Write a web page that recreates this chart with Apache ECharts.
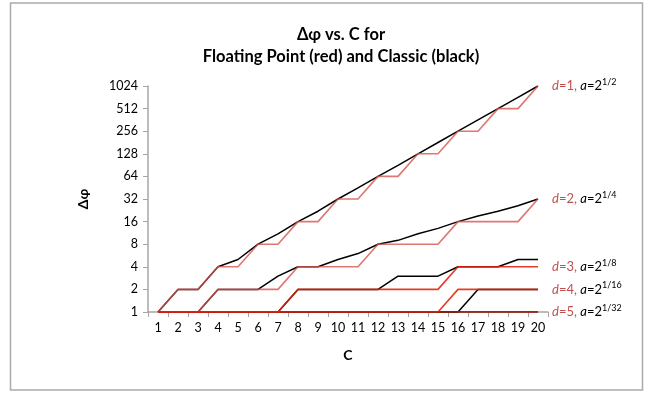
<!DOCTYPE html>
<html><head><meta charset="utf-8">
<script src="https://cdn.jsdelivr.net/npm/echarts@6/dist/echarts.min.js"></script>
<style>html,body{margin:0;padding:0;background:#fff}#c{width:652px;height:395px}</style>
</head><body><div id="c"></div>
<script>
var categories = ['1','2','3','4','5','6','7','8','9','10','11','12','13','14','15','16','17','18','19','20'];
var yTicks = [1,2,4,8,16,32,64,128,256,512,1024];
var red1   = [1,2,2,4,4,8,8,16,16,32,32,64,64,128,128,256,256,512,512,1024];
var black1 = [1,2,2,4,5,8,11,16,22,32,45,64,90,128,181,256,362,512,724,1024];
var red2   = [1,1,1,2,2,2,2,4,4,4,4,8,8,8,8,16,16,16,16,32];
var black2 = [1,1,1,2,2,2,3,4,4,5,6,8,9,11,13,16,19,22,26,32];
var red3   = [1,1,1,1,1,1,1,2,2,2,2,2,2,2,2,4,4,4,4,4];
var black3 = [1,1,1,1,1,1,1,2,2,2,2,2,3,3,3,4,4,4,5,5];
var red4   = [1,1,1,1,1,1,1,1,1,1,1,1,1,1,1,2,2,2,2,2];
var black4 = [1,1,1,1,1,1,1,1,1,1,1,1,1,1,1,1,2,2,2,2];
var red5   = [1,1,1,1,1,1,1,1,1,1,1,1,1,1,1,1,1,1,1,1];
var black5 = [1,1,1,1,1,1,1,1,1,1,1,1,1,1,1,1,1,1,1,1];
var dLabels = ['1','2','3','4','5'];
var aExps = ['1/2','1/4','1/8','1/16','1/32'];

var FONT = 'Lato';
var chart = echarts.init(document.getElementById('c'), null, {renderer:'canvas'});
var blacks = [black1,black2,black3,black4,black5];
var reds = [red1,red2,red3,red4,red5];
var redColors = ['rgba(214,84,78,0.8)','rgba(214,84,78,0.8)','rgba(226,32,10,0.88)','rgba(226,32,10,0.88)','rgba(226,32,10,0.88)'];
var series = [];
blacks.forEach(function(b,i){
  series.push({type:'line', name:'classic d='+dLabels[i], data:b, symbol:'none', silent:true,
    lineStyle:{color:'#000', width:1.5}, z:2});
});
reds.forEach(function(r,i){
  series.push({type:'line', name:'fp d='+dLabels[i], data:r, symbol:'none', silent:true,
    lineStyle:{color:redColors[i], width:1.6}, z:3,
    endLabel:{show:true, distance:14,
      formatter:'{d|d}{r|=' + dLabels[i] + ', }{a|a}{k|=2}{s|' + aExps[i] + '}',
      rich:{
        d:{fontFamily:FONT, fontSize:13, fontStyle:'italic', color:'#c0504d'},
        r:{fontFamily:FONT, fontSize:13, color:'#c0504d'},
        a:{fontFamily:FONT, fontSize:13, fontStyle:'italic', color:'#000'},
        k:{fontFamily:FONT, fontSize:13, color:'#000'},
        s:{fontFamily:FONT, fontSize:9, color:'#000', verticalAlign:'top', padding:[0,0,8,0]}
      }
    }
  });
});

chart.setOption({
  animation:false,
  backgroundColor:'#fff',
  title:{text:'Δφ vs. C for\nFloating Point (red) and Classic (black)', left:336, top:19, textAlign:'center',
    textStyle:{fontFamily:FONT, fontSize:16.5, fontWeight:'bold', color:'#000', lineHeight:22}},
  graphic:[{type:'rect', shape:{x:10.5, y:3, width:632, height:387}, style:{fill:null, stroke:'#aaa', lineWidth:1.5}, silent:true}],
  grid:{left:148, right:104, top:86, bottom:83, containLabel:false},
  xAxis:{type:'category', data:categories, boundaryGap:true,
    name:'C', nameLocation:'middle', nameGap:36,
    nameTextStyle:{fontFamily:FONT, fontSize:14, fontWeight:'bold', color:'#000'},
    axisLine:{show:true, lineStyle:{color:'#a6a6a6', width:1.5}},
    axisTick:{show:true, alignWithLabel:false, inside:false, length:5, lineStyle:{color:'#a6a6a6'}},
    axisLabel:{fontFamily:FONT, fontSize:12.5, color:'#000', margin:9},
    splitLine:{show:false}},
  yAxis:{type:'log', logBase:2, min:1, max:1024, interval:1,
    name:'Δφ', nameLocation:'middle', nameGap:58, nameRotate:90,
    nameTextStyle:{fontFamily:FONT, fontSize:14, fontWeight:'bold', color:'#000'},
    axisLine:{show:true, lineStyle:{color:'#a6a6a6', width:1.5}},
    axisTick:{show:true, inside:false, length:5, lineStyle:{color:'#a6a6a6'}},
    axisLabel:{fontFamily:FONT, fontSize:12.5, color:'#000', margin:10,
      formatter:function(v){ var n = Math.round(v); return yTicks.indexOf(n)>=0 ? String(n) : ''; }},
    splitLine:{show:false}},
  series:series
});
</script></body></html>
